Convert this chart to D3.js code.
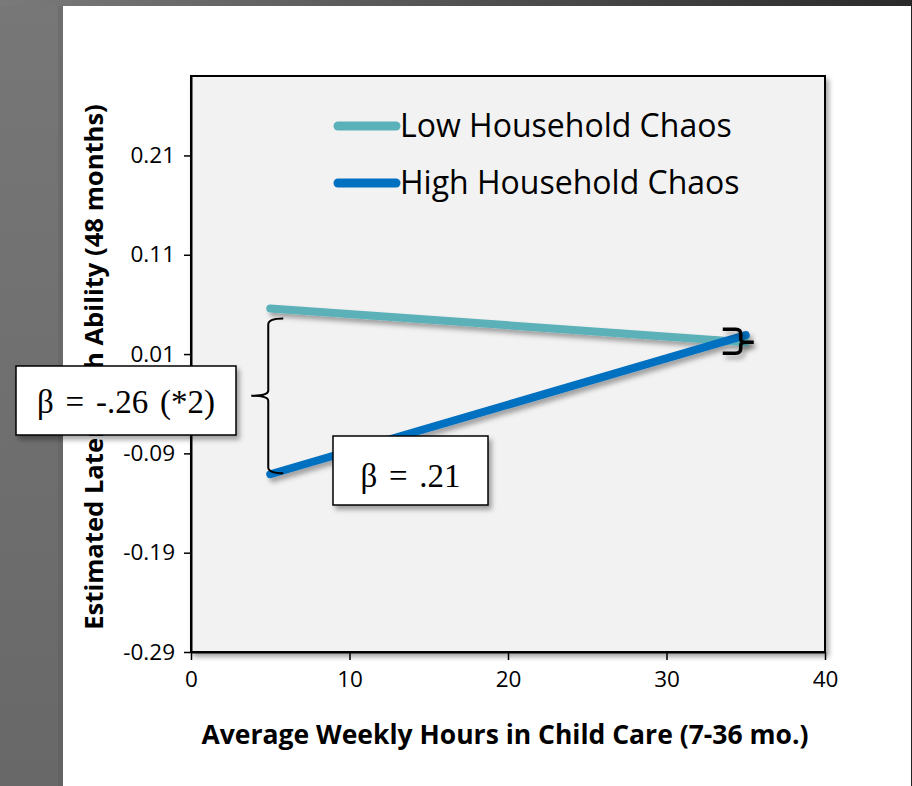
<!DOCTYPE html>
<html>
<head>
<meta charset="utf-8">
<script src="https://cdn.jsdelivr.net/npm/d3@7"></script>
<style>
  body { margin: 0; background: #fff; }
  svg { display: block; }
</style>
</head>
<body>
<div id="chart"></div>
<script>
// chart data
var hours = [5, 35];
var lowChaos = [0.056, 0.022];
var highChaos = [-0.111, 0.029];
var seriesNames = ["Low Household Chaos", "High Household Chaos"];
var seriesColors = ["#5BB1B9", "#0070C0"];
var yTicks = [-0.29, -0.19, -0.09, 0.01, 0.11, 0.21];
var xTicks = [0, 10, 20, 30, 40];
var betaLabels = ["\u03b2 = -.26 (*2)", "\u03b2 = .21"];

var width = 912, height = 786;
var font = "'Open Sans', sans-serif";
var svg = d3.select("#chart").append("svg")
    .attr("width", width)
    .attr("height", height);

var defs = svg.append("defs");

// slide background bands
var gTop = defs.append("linearGradient").attr("id", "topband")
    .attr("x1", "0%").attr("x2", "100%");
gTop.append("stop").attr("offset", "0%").attr("stop-color", "#7a7a7a");
gTop.append("stop").attr("offset", "100%").attr("stop-color", "#2a2a2a");

var gLeft = defs.append("linearGradient").attr("id", "leftband")
    .attr("x1", "0%").attr("x2", "0%").attr("y1", "0%").attr("y2", "100%");
gLeft.append("stop").attr("offset", "0%").attr("stop-color", "#777");
gLeft.append("stop").attr("offset", "100%").attr("stop-color", "#686868");

var sh = defs.append("filter").attr("id", "shadow")
    .attr("x", "-20%").attr("y", "-20%").attr("width", "140%").attr("height", "160%");
sh.append("feDropShadow")
    .attr("dx", 3).attr("dy", 4).attr("stdDeviation", 2.5)
    .attr("flood-color", "#000").attr("flood-opacity", 0.35);

var shLine = defs.append("filter").attr("id", "lineshadow")
    .attr("filterUnits", "userSpaceOnUse")
    .attr("x", 0).attr("y", 0).attr("width", width).attr("height", height);
shLine.append("feDropShadow")
    .attr("dx", 3).attr("dy", 4).attr("stdDeviation", 2.5)
    .attr("flood-color", "#000").attr("flood-opacity", 0.35);

svg.append("rect").attr("x", 0).attr("y", 0).attr("width", width).attr("height", height)
    .attr("fill", "#fff");
svg.append("rect").attr("x", 0).attr("y", 0).attr("width", 63).attr("height", height)
    .attr("fill", "url(#leftband)");
svg.append("rect").attr("x", 58).attr("y", 0).attr("width", 5).attr("height", height)
    .attr("fill", "#555").attr("opacity", 0.25);
svg.append("rect").attr("x", 0).attr("y", 0).attr("width", width).attr("height", 6)
    .attr("fill", "url(#topband)");
svg.append("rect").attr("x", 911).attr("y", 0).attr("width", 1).attr("height", height)
    .attr("fill", "#222");

// scales
var x = d3.scaleLinear().domain([0, 40]).range([191, 825]);
var y = d3.scaleLinear().domain([-0.29, 0.29]).range([652, 76]);

// plot area
svg.append("rect")
    .attr("x", x(0)).attr("y", y(0.29))
    .attr("width", x(40) - x(0)).attr("height", y(-0.29) - y(0.29))
    .attr("fill", "#f2f2f2")
    .attr("stroke", "#000").attr("stroke-width", 2)
    .attr("filter", "url(#shadow)");

// axes
var yAxis = d3.axisLeft(y).tickValues(yTicks)
    .tickFormat(function(d) { return d3.format(".2f")(d).replace("\u2212", "-"); })
    .tickSize(7).tickSizeOuter(0).tickPadding(9);
var gy = svg.append("g").attr("transform", "translate(" + x(0) + ",0)").call(yAxis);

var xAxis = d3.axisBottom(x).tickValues(xTicks)
    .tickFormat(d3.format("d"))
    .tickSize(8).tickSizeOuter(0).tickPadding(11);
var gx = svg.append("g").attr("transform", "translate(0," + y(-0.29) + ")").call(xAxis);

[gx, gy].forEach(function(g) {
    g.select(".domain").attr("stroke", "#000").attr("stroke-width", 2);
    g.selectAll(".tick line").attr("stroke", "#000").attr("stroke-width", 1.5);
    g.selectAll(".tick text")
        .attr("fill", "#000")
        .attr("font-family", font)
        .attr("font-size", 22.5);
});

// axis titles
svg.append("text")
    .attr("x", (x(0) + x(40)) / 2 - 3).attr("y", 744)
    .attr("text-anchor", "middle")
    .attr("font-family", font).attr("font-weight", "bold")
    .attr("font-size", 26.5)
    .text("Average Weekly Hours in Child Care (7-36 mo.)");

svg.append("text")
    .attr("transform", "translate(103,367) rotate(-90)")
    .attr("text-anchor", "middle")
    .attr("font-family", font).attr("font-weight", "bold")
    .attr("font-size", 25.6)
    .text("Estimated Later Math Ability (48 months)");

// data lines
var line = d3.line()
    .x(function(d) { return x(d[0]); })
    .y(function(d) { return y(d[1]); });

var seriesData = [lowChaos, highChaos];
var gLines = svg.append("g").attr("filter", "url(#lineshadow)");
seriesData.forEach(function(vals, i) {
    gLines.append("path")
        .datum(hours.map(function(h, j) { return [h, vals[j]]; }))
        .attr("d", line)
        .attr("fill", "none")
        .attr("stroke", seriesColors[i])
        .attr("stroke-width", 8)
        .attr("stroke-linecap", "round");
});

// legend
var legend = svg.append("g");
seriesNames.forEach(function(name, i) {
    var ly = 126 + i * 57;
    legend.append("line")
        .attr("x1", 338).attr("x2", 396)
        .attr("y1", ly).attr("y2", ly)
        .attr("stroke", seriesColors[i])
        .attr("stroke-width", 9)
        .attr("stroke-linecap", "round");
    legend.append("text")
        .attr("x", 400).attr("y", ly + 11)
        .attr("font-family", font)
        .attr("font-size", 32)
        .attr("fill", "#000")
        .text(name);
});

// left brace between the two lines at 5 hours
var bx = x(hours[0]) - 2;
var bTop = y(lowChaos[0]) + 10, bBot = y(highChaos[0]) - 1;
var bMid = (bTop + bBot) / 2;
var brace = d3.path();
brace.moveTo(bx + 15, bTop);
brace.quadraticCurveTo(bx, bTop, bx, bTop + 6);
brace.lineTo(bx, bMid - 5);
brace.quadraticCurveTo(bx, bMid, bx - 17, bMid);
brace.quadraticCurveTo(bx, bMid, bx, bMid + 5);
brace.lineTo(bx, bBot - 6);
brace.quadraticCurveTo(bx, bBot, bx + 15, bBot);
svg.append("path").attr("d", brace.toString())
    .attr("fill", "none").attr("stroke", "#000").attr("stroke-width", 2);

// small right brace at 35 hours
var rx = x(hours[1]) - 5;
var rTop = y(highChaos[1]) - 6, rBot = y(lowChaos[1]) + 11;
var rMid = (rTop + rBot) / 2 + 1;
var rbrace = d3.path();
rbrace.moveTo(rx - 18, rTop);
rbrace.lineTo(rx - 5, rTop);
rbrace.quadraticCurveTo(rx, rTop, rx, rTop + 5);
rbrace.lineTo(rx, rMid - 3);
rbrace.quadraticCurveTo(rx, rMid, rx + 5, rMid);
rbrace.lineTo(rx + 13, rMid);
rbrace.moveTo(rx + 5, rMid);
rbrace.quadraticCurveTo(rx, rMid, rx, rMid + 3);
rbrace.lineTo(rx, rBot - 5);
rbrace.quadraticCurveTo(rx, rBot, rx - 5, rBot);
rbrace.lineTo(rx - 18, rBot);
svg.append("path").attr("d", rbrace.toString())
    .attr("fill", "none").attr("stroke", "#000").attr("stroke-width", 3.5)
    .attr("filter", "url(#shadow)");

// beta boxes
var boxes = [
    { x0: 16, y0: 366, w: 220, h: 69, text: betaLabels[0], base: 413 },
    { x0: 333, y0: 436, w: 155, h: 69, text: betaLabels[1], base: 487 }
];
boxes.forEach(function(b) {
    svg.append("rect")
        .attr("x", b.x0).attr("y", b.y0).attr("width", b.w).attr("height", b.h)
        .attr("fill", "#fff").attr("stroke", "#000").attr("stroke-width", 1.5)
        .attr("filter", "url(#shadow)");
    svg.append("text")
        .attr("x", b.x0 + b.w / 2).attr("y", b.base)
        .attr("text-anchor", "middle")
        .attr("font-family", "'Liberation Serif', 'Times New Roman', serif")
        .attr("font-size", 33)
        .attr("word-spacing", 3.5)
        .attr("fill", "#000")
        .text(b.text);
});
</script>
</body>
</html>
